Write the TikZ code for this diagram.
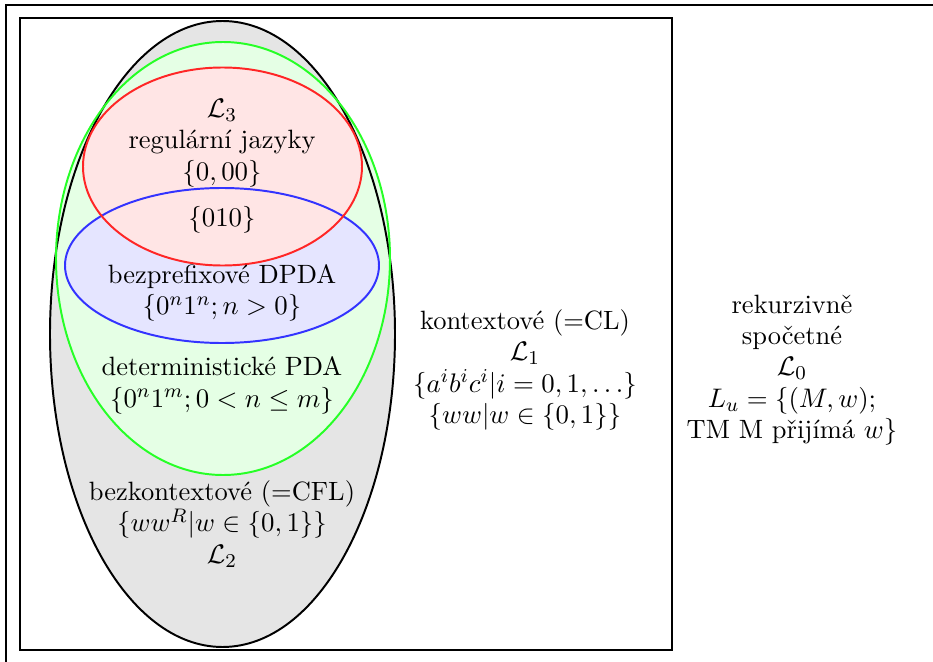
\documentclass[tikz,border=0pt]{standalone}
\usepackage{fontspec}
\usepackage{amsmath,amssymb}
\usetikzlibrary{positioning}

\begin{document}
\begin{tikzpicture}[
  x=0.408pt, y=-0.408pt, thick,
  lbl/.style={align=center, inner sep=1pt, font=\fontsize{10.8pt}{12.8pt}\selectfont},
  cfl/.style={fill=black!10},
  dcfl/.style={fill=green!10},
  pfx/.style={fill=blue!10},
  reg/.style={fill=red!10}]
\useasboundingbox (0,0) rectangle (933,662);
\clip (0,0) rectangle (933,662);
% frames (the outer one runs off the page)
\draw (6,5) rectangle (945,675);
\draw (20,18) rectangle (672,650);
% fills first, outlines on top
\fill[cfl]  (222.5,334)   ellipse [x radius=172.5, y radius=313];
\fill[dcfl] (223,258.5)   ellipse [x radius=167,   y radius=216.5];
\fill[pfx]  (222,265.5)   ellipse [x radius=157,   y radius=77.5];
\fill[reg]  (222.5,166.5) ellipse [x radius=139.5, y radius=99];
\draw       (222.5,334)   ellipse [x radius=172.5, y radius=313];
\draw[green!85] (223,258.5)  ellipse [x radius=167,   y radius=216.5];
\draw[blue!80] (222,265.5)   ellipse [x radius=157,   y radius=77.5];
\draw[red!85]  (222.5,166.5) ellipse [x radius=139.5, y radius=99];
% labels
\node[lbl] (l3) at (222,143) {$\mathcal{L}_3$\\regulární jazyky\\$\{0,00\}$};
\node[lbl] (both) at (222,220) {$\{010\}$};
\node[lbl] (dpda0) at (222,293) {bezprefixové DPDA\\$\{0^n1^n; n>0\}$};
\node[lbl] (dpda) at (222,385.5) {deterministické PDA\\$\{0^n1^m; 0<n\leq m\}$};
\node[lbl] (l2) at (222,524) {bezkontextové (=CFL)\\$\{ww^R|w\in\{0,1\}\}$\\$\mathcal{L}_2$};
\node[lbl] (l1) at (525,370) {kontextové (=CL)\\$\mathcal{L}_1$\\$\{a^ib^ic^i|i=0,1,\ldots\}$\\$\{ww|w\in\{0,1\}\}$};
\node[lbl] (l0) at (792,370) {rekurzivně\\spočetné\\$\mathcal{L}_0$\\$L_u=\{(M,w);$\\TM M přijímá $w\}$};
\end{tikzpicture}
\end{document}
